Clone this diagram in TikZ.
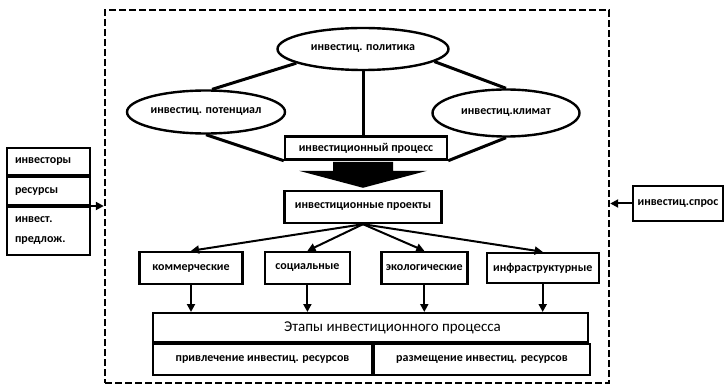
\documentclass[tikz,border=0pt]{standalone}
\usepackage{fontspec}
\setmainfont{Carlito}
\usetikzlibrary{arrows.meta, positioning, shapes.geometric}
\tikzset{
    lbl/.style={font=\fontsize{12}{14}\selectfont\bfseries},
    oval/.style={
        ellipse, draw, line width=2.4pt,
        inner sep=0pt, lbl
    },
    box/.style={
        rectangle, draw, line width=2.4pt,
        inner sep=2pt, lbl
    },
    cell/.style={
        rectangle, draw, line width=2pt,
        inner sep=0pt, lbl
    },
    link/.style={line width=3pt},
    conn/.style={
        line width=2pt,
        -{Triangle[length=8pt, width=8pt]},
    },
    frame/.style={draw, line width=2.4pt, dash pattern=on 7pt off 3pt},
}

\begin{document}
\begin{tikzpicture}[x=1pt, y=-1pt]
        \useasboundingbox (0,0) rectangle (727,387);

        \node[frame, minimum width=504pt, minimum height=373pt] (frame) at (357,196.5) {};

        \node[oval, minimum width=171pt, minimum height=42pt] (pol) at (363,49) {инвестиц. политика};
        \node[oval, minimum width=158pt, minimum height=43pt] (pot) at (206,112) {инвестиц. потенциал};
        \node[oval, minimum width=147pt, minimum height=47pt] (klim) at (506,113) {инвестиц.климат};
        \node[box, minimum width=162pt, minimum height=23pt] (proc) at (366,148) {инвестиционный процесс};
        \node[box, minimum width=157pt, minimum height=32pt] (proj) at (363,207) {инвестиционные проекты};

        \node[box, minimum width=103pt, minimum height=32pt] (kom) at (191,268) {коммерческие};
        \node[box, minimum width=85pt, minimum height=32pt, right=20pt of kom] (soc) {социальные};
        \node[box, minimum width=86pt, minimum height=32pt, right=29pt of soc] (eko) {экологические};
        \node[box, minimum width=112pt, minimum height=30pt, right=17pt of eko] (infra) {инфраструктурные};

        \node[cell, minimum width=435pt, minimum height=29pt] (etap) at (370.5,327.5) {};
        \node[font=\fontsize{15}{17}\selectfont] (etaptxt) at ([xshift=22pt]etap.center) {Этапы инвестиционного процесса};
        \node[cell, anchor=north west, minimum width=219pt, minimum height=31pt] (privl) at (etap.south west) {привлечение инвестиц. ресурсов};
        \node[cell, minimum width=216pt, minimum height=31pt, right=0pt of privl] (razm) {размещение инвестиц. ресурсов};

        % inputs from outside
        \node[cell, inner xsep=8pt, text width=67pt, align=left, minimum height=27pt] (inv) at (48.5,161.5) {инвесторы};
        \node[cell, inner xsep=8pt, text width=67pt, align=left, minimum height=28pt, below=0pt of inv] (res) {ресурсы};
        \node[cell, inner xsep=8pt, text width=67pt, align=left, minimum height=48pt, below=0pt of res,
              font=\fontsize{12}{20}\selectfont\bfseries] (pred) {инвест.\\предлож.};
        \node[box, minimum width=90pt, minimum height=35pt] (spros) at (678,203.5) {инвестиц.спрос};

        \draw[link] (pol.192) -- (pot.75);
        \draw[link] (pol.-10) -- (klim.north);
        \draw[link] (pol.south) -- (pol.south |- proc.north);
        \draw[link] (pot.south) -- (proc.south west);
        \draw[link] (klim.south) -- (proc.south east);

        \fill[shift={(proj.north)}] (-30,-28) -- (30,-28) -- (30,-19) -- (64,-19)
            -- (0,-2) -- (-64,-19) -- (-30,-19) -- cycle;

        \foreach \j in {kom, soc, eko, infra} {
            \draw[conn] (proj.south) -- (\j.north);
            \draw[conn] (\j.south) -- (\j.south |- etap.north);
        }

        \draw[conn] (res.south east) -- (frame.west |- res.south east);
        \draw[conn] (spros.west) -- (frame.east |- spros.west);
\end{tikzpicture}
\end{document}
